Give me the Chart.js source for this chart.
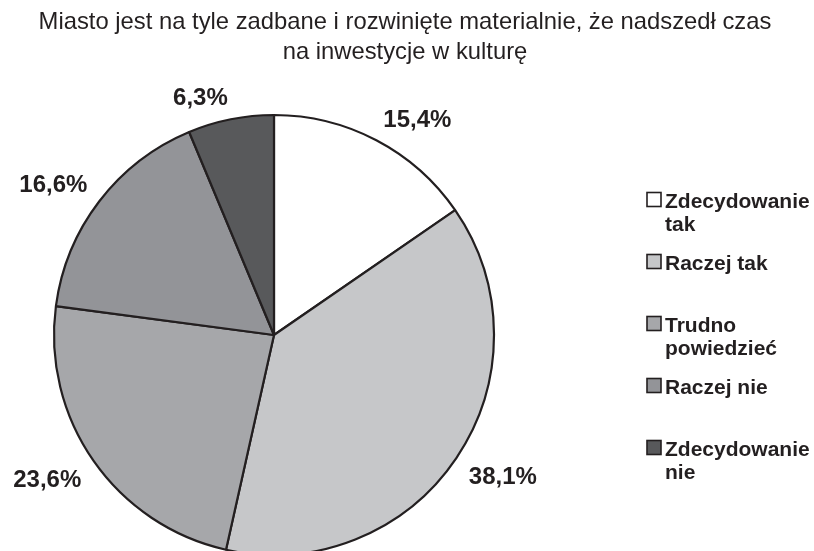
<!DOCTYPE html>
<html>
<head>
<meta charset="utf-8">
<script src="https://cdn.jsdelivr.net/npm/chart.js@4/dist/chart.umd.min.js"></script>
<style>
  html, body { margin: 0; padding: 0; background: #fff; overflow: hidden; }
  #wrap { width: 814px; height: 560px; }
</style>
</head>
<body>
<div id="wrap"><canvas id="chart" width="814" height="560"></canvas></div>
<script>
// answers -> slices
const categories = ['Zdecydowanie tak', 'Raczej tak', 'Trudno powiedzieć', 'Raczej nie', 'Zdecydowanie nie'];
// same labels, broken the way the legend shows them
const legendLines = [['Zdecydowanie', 'tak'], ['Raczej tak'], ['Trudno', 'powiedzieć'], ['Raczej nie'], ['Zdecydowanie', 'nie']];
// percent of answers
const shares = [15.4, 38.1, 23.6, 16.6, 6.3];
const sliceColors = ['#ffffff', '#c6c7c9', '#a6a7aa', '#939498', '#58595b'];
const titleLines = ['Miasto jest na tyle zadbane i rozwinięte materialnie, że nadszedł czas', 'na inwestycje w kulturę'];

const FONT = '"Liberation Sans", Arial, sans-serif';
const INK = '#231f20';

// title, two centered lines
const titlePlugin = {
  id: 'titleLines',
  afterDraw(chart) {
    const ctx = chart.ctx;
    ctx.save();
    ctx.font = '23.8px ' + FONT;
    ctx.fillStyle = INK;
    ctx.textAlign = 'center';
    ctx.textBaseline = 'alphabetic';
    titleLines.forEach((line, i) => {
      ctx.fillText(line, 405, 28.5 + i * 30);
    });
    ctx.restore();
  }
};

// percent labels just outside each slice
const valueLabels = {
  id: 'valueLabels',
  afterDatasetsDraw(chart) {
    const ctx = chart.ctx;
    const meta = chart.getDatasetMeta(0);
    ctx.save();
    ctx.font = 'bold 24px ' + FONT;
    ctx.fillStyle = INK;
    ctx.textBaseline = 'alphabetic';
    const capH = 24 * 0.716;
    meta.data.forEach((arc, i) => {
      const p = arc.getProps(['x', 'y', 'startAngle', 'endAngle', 'outerRadius'], true);
      const mid = (p.startAngle + p.endAngle) / 2;
      const cx = Math.cos(mid), cy = Math.sin(mid);
      const ax = p.x + (p.outerRadius + 15) * cx;
      const ay = p.y + (p.outerRadius + 15) * cy;
      ctx.textAlign = cx >= 0 ? 'left' : 'right';
      const txt = shares[i].toFixed(1).replace('.', ',') + '%';
      ctx.fillText(txt, ax, cy < 0 ? ay : ay + capH);
    });
    ctx.restore();
  }
};

// legend on the right, with wrapped labels
const sideLegend = {
  id: 'sideLegend',
  afterDraw(chart) {
    const ctx = chart.ctx;
    const ds = chart.data.datasets[0];
    ctx.save();
    ctx.font = 'bold 21px ' + FONT;
    ctx.textAlign = 'left';
    ctx.textBaseline = 'alphabetic';
    legendLines.forEach((lines, i) => {
      const base = 207.5 + i * 62;
      ctx.fillStyle = ds.backgroundColor[i];
      ctx.fillRect(647, base - 15, 14, 14);
      ctx.strokeStyle = INK;
      ctx.lineWidth = 1.6;
      ctx.strokeRect(647, base - 15, 14, 14);
      ctx.fillStyle = INK;
      lines.forEach((t, j) => ctx.fillText(t, 665, base + j * 23));
    });
    ctx.restore();
  }
};

const data = {
  labels: categories,
  datasets: [{
    data: shares,
    backgroundColor: sliceColors,
    borderColor: INK,
    borderWidth: 2.2,
    radius: 220
  }]
};

const config = {
  type: 'pie',
  data: data,
  options: {
    responsive: false,
    animation: false,
    layout: { padding: { left: 0, right: 266, top: 115, bottom: 5 } },
    plugins: {
      legend: { display: false },
      tooltip: { enabled: false },
      title: { display: false }
    }
  },
  plugins: [titlePlugin, valueLabels, sideLegend]
};

var myChart = new Chart(document.getElementById('chart').getContext('2d'), config);
</script>
</body>
</html>
